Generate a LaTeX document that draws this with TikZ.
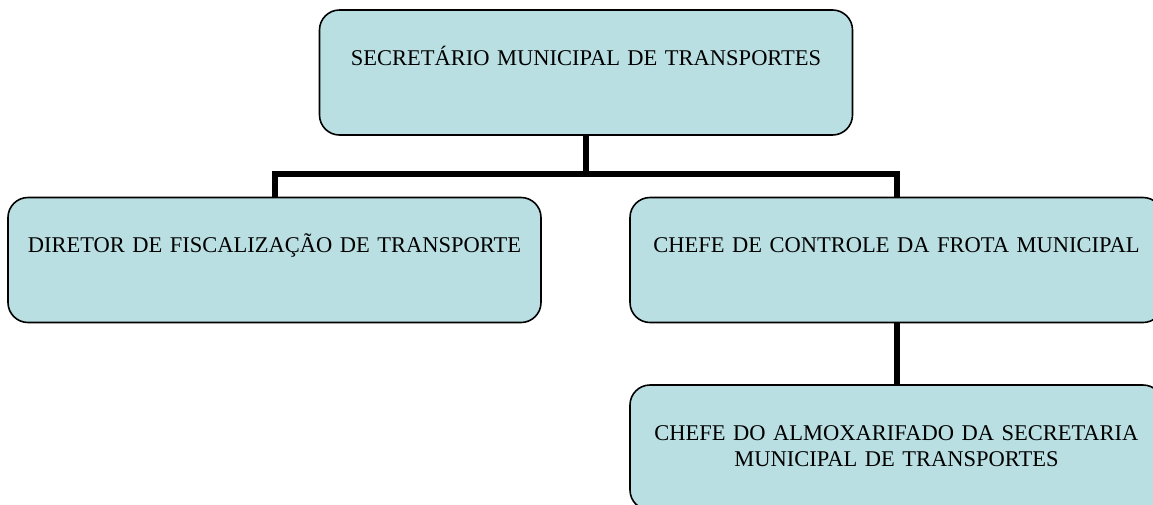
\documentclass[tikz,border=0pt]{standalone}
\usepackage{fontspec}
\setmainfont{Liberation Serif}
\usetikzlibrary{positioning,calc}
\definecolor{caixa}{RGB}{185,223,226}

\begin{document}
\begin{tikzpicture}[x=1pt,y=-1pt,
  cargo/.style={draw,line width=1.6pt,fill=caixa,rounded corners=20pt,minimum width=533pt,minimum height=125pt,text width=520pt,align=center,inner xsep=0pt,inner ysep=0pt,text height=55pt,text depth=70pt,font=\fontsize{22.5}{26}\selectfont},
  ligacao/.style={line width=6pt}]
\clip (0,0) rectangle (1153,504);
\useasboundingbox (0,0) rectangle (1153,504);
\node[cargo] (secretario) at (586,72.5) {SECRETÁRIO MUNICIPAL DE TRANSPORTES};
\node[cargo] (diretor) at (274.5,260) {DIRETOR DE FISCALIZAÇÃO DE TRANSPORTE};
\node[cargo] (frota) at (896.5,260) {CHEFE DE CONTROLE DA FROTA MUNICIPAL};
\node[cargo] (almox) at (896.5,447.5) {CHEFE DO ALMOXARIFADO DA SECRETARIA\\ MUNICIPAL DE TRANSPORTES};
\coordinate (juncao) at ($(secretario.south)+(0,38)$);
\draw[ligacao] (secretario.south) -- (juncao);
\draw[ligacao] (diretor.north) |- (juncao) -| (frota.north);
\draw[ligacao] (frota.south) -- (almox.north);
\end{tikzpicture}
\end{document}
